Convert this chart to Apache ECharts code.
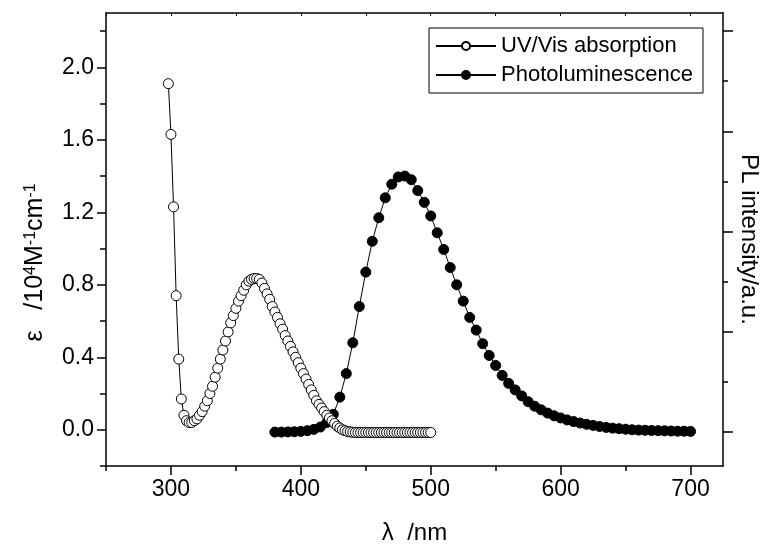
<!DOCTYPE html>
<html><head><meta charset="utf-8">
<script src="https://cdn.jsdelivr.net/npm/echarts@6/dist/echarts.min.js"></script>
<style>html,body{margin:0;padding:0;background:#fff}#c{width:772px;height:550px}</style>
</head><body><div id="c"></div>
<script>
// UV/Vis absorption (epsilon, 10^4 M^-1 cm^-1)
const uvWavelength = [298,300,302,304,306,308,310,312,314,316,318,320,322,324,326,328,330,332,334,336,338,340,342,344,346,348,350,352,354,356,358,360,362,364,366,368,370,372,374,376,378,380,382,384,386,388,390,392,394,396,398,400,402,404,406,408,410,412,414,416,418,420,422,424,426,428,430,432,434,436,438,440,442,444,446,448,450,452,454,456,458,460,462,464,466,468,470,472,474,476,478,480,482,484,486,488,490,492,494,496,498,500];
const uvEpsilon = [1.91,1.63,1.23,0.74,0.39,0.17,0.08,0.05,0.04,0.04,0.05,0.06,0.08,0.10,0.13,0.16,0.20,0.24,0.29,0.34,0.39,0.44,0.49,0.54,0.59,0.63,0.67,0.71,0.74,0.77,0.80,0.82,0.83,0.835,0.835,0.83,0.81,0.78,0.75,0.72,0.68,0.65,0.62,0.585,0.555,0.52,0.49,0.46,0.43,0.40,0.37,0.34,0.31,0.28,0.25,0.22,0.19,0.16,0.14,0.12,0.10,0.08,0.065,0.05,0.035,0.02,0.01,0.0,-0.005,-0.01,-0.012,-0.014,-0.015,-0.015,-0.015,-0.015,-0.015,-0.015,-0.015,-0.015,-0.015,-0.015,-0.015,-0.015,-0.015,-0.015,-0.015,-0.015,-0.015,-0.015,-0.015,-0.015,-0.015,-0.015,-0.015,-0.015,-0.015,-0.015,-0.015,-0.015,-0.015,-0.015];
// Photoluminescence (a.u., read on left scale)
const plWavelength = [380,385,390,395,400,405,410,415,420,425,430,435,440,445,450,455,460,465,470,475,480,485,490,495,500,505,510,515,520,525,530,535,540,545,550,555,560,565,570,575,580,585,590,595,600,605,610,615,620,625,630,635,640,645,650,655,660,665,670,675,680,685,690,695,700];
const plIntensity = [-0.013,-0.013,-0.012,-0.011,-0.009,-0.005,0.002,0.015,0.04,0.085,0.18,0.31,0.48,0.68,0.87,1.04,1.17,1.28,1.355,1.395,1.40,1.38,1.32,1.255,1.18,1.087,0.995,0.895,0.80,0.71,0.62,0.55,0.475,0.41,0.355,0.30,0.256,0.22,0.187,0.155,0.13,0.11,0.092,0.077,0.065,0.054,0.045,0.037,0.03,0.024,0.018,0.013,0.009,0.006,0.003,0.0,-0.002,-0.003,-0.004,-0.005,-0.006,-0.007,-0.008,-0.008,-0.009];

const seriesNames = ['UV/Vis absorption','Photoluminescence'];
const xLabelTicks = [300,400,500,600,700];
const xMinorTicks = [250,350,450,550,650];
const xTopTicks = [250,300,350,400,450,500,550,600,650,700];
const yLabelTicks = [0,0.4,0.8,1.2,1.6,2.0];
const yMinorTicks = [-0.2,0.2,0.6,1.0,1.4,1.8,2.2];
const rightMajorTicks = [0,1,2,3,4];
const rightMinorTicks = [0.5,1.5,2.5,3.5];

const font = 'Liberation Sans, Arial, sans-serif';
const black = '#000';
const xRange = {min: 250, max: 725};
const yRange = {min: -0.2, max: 2.3};
const rRange = {min: -0.34, max: 4.18};

const pair = (xs, ys) => xs.map((x, i) => [x, ys[i]]);
const line = (w) => ({show: true, onZero: false, lineStyle: {color: black, width: w}});
const noLine = {show: false, onZero: false};

const chart = echarts.init(document.getElementById('c'), null, {renderer: 'canvas'});
chart.setOption({
  animation: false,
  backgroundColor: '#fff',
  grid: {left: 106, right: 49, top: 13, bottom: 80, containLabel: false},
  legend: {
    data: seriesNames, orient: 'vertical', left: 429, top: 28,
    borderColor: black, borderWidth: 1, padding: [7, 10, 7, 6], itemGap: 7,
    itemWidth: 60, itemHeight: 10,
    textStyle: {fontFamily: font, fontSize: 22, color: black}
  },
  xAxis: [
    {type: 'value', position: 'bottom', ...xRange,
     name: 'λ  /nm', nameLocation: 'middle', nameGap: 55,
     nameTextStyle: {fontFamily: font, fontSize: 24, color: black},
     axisLine: line(1.5),
     axisTick: {show: true, customValues: xLabelTicks, length: 9, lineStyle: {color: black, width: 1.5}},
     axisLabel: {show: true, customValues: xLabelTicks, fontFamily: font, fontSize: 23, color: black, margin: 12},
     splitLine: {show: false}},
    {type: 'value', position: 'bottom', ...xRange,
     axisLine: noLine, axisLabel: {show: false}, splitLine: {show: false},
     axisTick: {show: true, customValues: xMinorTicks, length: 5, lineStyle: {color: black, width: 1.5}}},
    {type: 'value', position: 'top', ...xRange,
     axisLine: line(1.5), axisLabel: {show: false}, splitLine: {show: false},
     axisTick: {show: true, inside: true, customValues: xTopTicks, length: 3, lineStyle: {color: black, width: 1}}}
  ],
  yAxis: [
    {type: 'value', position: 'left', ...yRange,
     name: '{a|ε   /10}{s|4}{a|M}{s|-1}{a|cm}{s|-1}', nameLocation: 'middle', nameGap: 58,
     nameTextStyle: {padding: [0, 46, 0, 0], rich: {
       a: {fontFamily: font, fontSize: 25, color: black},
       s: {fontFamily: font, fontSize: 16, color: black, verticalAlign: 'top'}}},
     axisLine: line(1.5),
     axisTick: {show: true, customValues: yLabelTicks, length: 9, lineStyle: {color: black, width: 1.5}},
     axisLabel: {show: true, customValues: yLabelTicks, fontFamily: font, fontSize: 23, color: black, margin: 12,
       formatter: v => v.toFixed(1)},
     splitLine: {show: false}},
    {type: 'value', position: 'left', ...yRange,
     axisLine: noLine, axisLabel: {show: false}, splitLine: {show: false},
     axisTick: {show: true, customValues: yMinorTicks, length: 6, lineStyle: {color: black, width: 1.5}}},
    {type: 'value', position: 'right', ...rRange,
     name: 'PL intensity/a.u.', nameLocation: 'middle', nameGap: 14, nameRotate: -90,
     nameTextStyle: {fontFamily: font, fontSize: 24, color: black},
     axisLine: line(1.5), axisLabel: {show: false}, splitLine: {show: false},
     axisTick: {show: true, customValues: rightMajorTicks, length: 10, lineStyle: {color: black, width: 1.5}}},
    {type: 'value', position: 'right', ...rRange,
     axisLine: noLine, axisLabel: {show: false}, splitLine: {show: false},
     axisTick: {show: true, customValues: rightMinorTicks, length: 5, lineStyle: {color: black, width: 1.5}}}
  ],
  series: [
    {name: seriesNames[1], type: 'line', xAxisIndex: 0, yAxisIndex: 0,
     data: pair(plWavelength, plIntensity),
     symbol: 'circle', symbolSize: 10, showAllSymbol: true,
     lineStyle: {color: black, width: 1},
     itemStyle: {color: black, borderColor: black, borderWidth: 1}, z: 2},
    {name: seriesNames[0], type: 'line', xAxisIndex: 0, yAxisIndex: 0,
     data: pair(uvWavelength, uvEpsilon),
     symbol: 'circle', symbolSize: 10, showAllSymbol: true,
     lineStyle: {color: black, width: 1},
     itemStyle: {color: '#fff', borderColor: black, borderWidth: 1}, z: 3}
  ]
});
</script></body></html>
